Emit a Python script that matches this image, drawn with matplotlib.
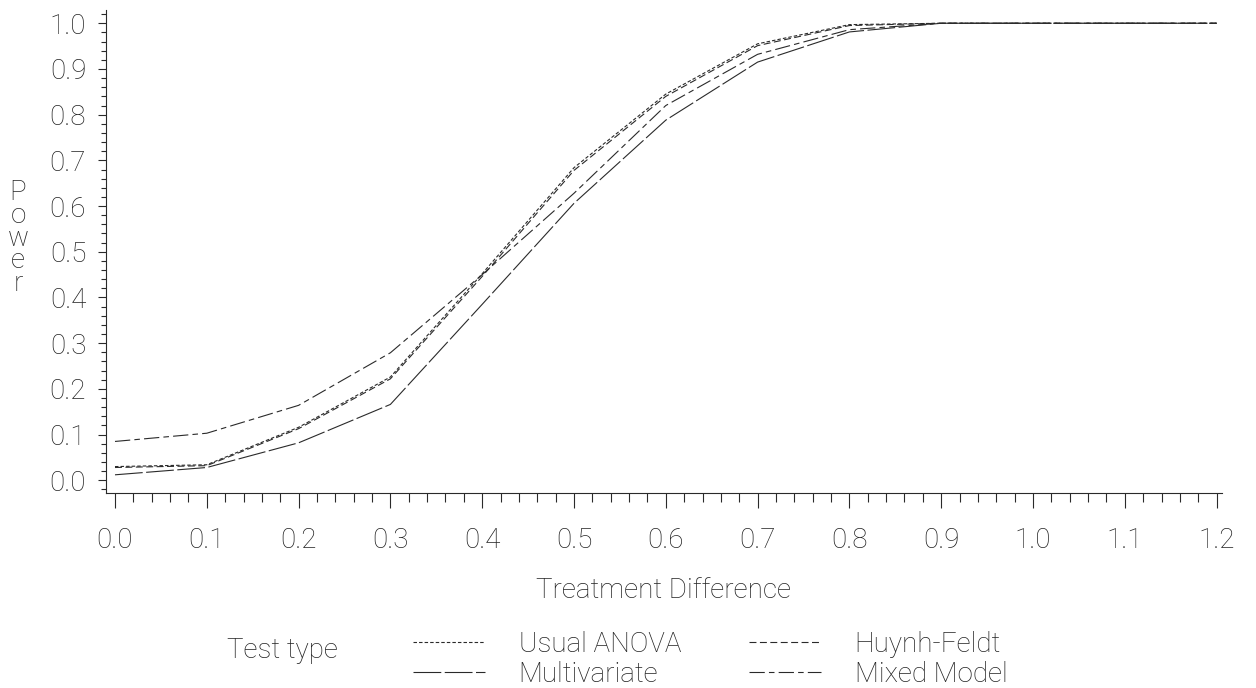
import matplotlib
matplotlib.use("Agg")
import matplotlib.pyplot as plt
from matplotlib.ticker import FixedLocator, MultipleLocator

# ---- data ----
treatment_difference = [0.0, 0.1, 0.2, 0.3, 0.4, 0.5, 0.6, 0.7, 0.8, 0.9, 1.0, 1.1, 1.2]
usual_anova  = [0.030, 0.034, 0.116, 0.226, 0.452, 0.684, 0.845, 0.955, 0.997, 1.0, 1.0, 1.0, 1.0]
huynh_feldt  = [0.028, 0.032, 0.113, 0.222, 0.446, 0.678, 0.840, 0.951, 0.995, 1.0, 1.0, 1.0, 1.0]
multivariate = [0.012, 0.028, 0.082, 0.166, 0.385, 0.606, 0.788, 0.915, 0.981, 1.0, 1.0, 1.0, 1.0]
mixed_model  = [0.085, 0.103, 0.164, 0.279, 0.450, 0.628, 0.820, 0.932, 0.986, 1.0, 1.0, 1.0, 1.0]
series_names = ["Usual ANOVA", "Huynh-Feldt", "Multivariate", "Mixed Model"]
xtick_values = [0.0, 0.1, 0.2, 0.3, 0.4, 0.5, 0.6, 0.7, 0.8, 0.9, 1.0, 1.1, 1.2]
xtick_labels = ["0.0", "0.1", "0.2", "0.3", "0.4", "0.5", "0.6", "0.7", "0.8", "0.9", "1.0", "1.1", "1.2"]
ytick_values = [0.0, 0.1, 0.2, 0.3, 0.4, 0.5, 0.6, 0.7, 0.8, 0.9, 1.0]
ytick_labels = ["0.0", "0.1", "0.2", "0.3", "0.4", "0.5", "0.6", "0.7", "0.8", "0.9", "1.0"]

plt.rcParams["font.family"] = ["Roboto", "Liberation Sans", "DejaVu Sans"]
plt.rcParams["font.weight"] = "light"
plt.rcParams["axes.labelweight"] = "light"
plt.rcParams["lines.scale_dashes"] = False

INK = "#2a2a2a"
TXT = "#222222"
FS = 20

fig = plt.figure(figsize=(12.56, 6.88), dpi=100)
ax = fig.add_axes([106 / 1256, 195 / 688, 1116 / 1256, 483 / 688])

lw = 0.8
l_usual, = ax.plot(treatment_difference, usual_anova, color=INK, lw=lw,
                   linestyle=(0, (2.5, 1.5)), label=series_names[0])
l_huynh, = ax.plot(treatment_difference, huynh_feldt, color=INK, lw=lw,
                   linestyle=(0, (5, 2.5)), label=series_names[1])
l_multi, = ax.plot(treatment_difference, multivariate, color=INK, lw=lw,
                   linestyle=(0, (20, 2.5)), label=series_names[2])
l_mixed, = ax.plot(treatment_difference, mixed_model, color=INK, lw=lw,
                   linestyle=(0, (11, 3, 4, 3)), label=series_names[3])

ax.set_xlim(-0.0098, 1.2059)
ax.set_ylim(-0.0278, 1.029)

for s in ["top", "right"]:
    ax.spines[s].set_visible(False)
for s in ["left", "bottom"]:
    ax.spines[s].set_linewidth(0.8)
    ax.spines[s].set_color(INK)

ax.xaxis.set_major_locator(FixedLocator(xtick_values))
ax.set_xticklabels(xtick_labels)
ax.xaxis.set_minor_locator(MultipleLocator(0.02))
ax.yaxis.set_major_locator(FixedLocator(ytick_values))
ax.set_yticklabels(ytick_labels)
ax.yaxis.set_minor_locator(MultipleLocator(0.02))

ax.tick_params(axis="x", which="major", direction="out", length=10.8, width=0.8,
               pad=14, labelsize=FS, color=INK, labelcolor=TXT)
ax.tick_params(axis="x", which="minor", direction="out", length=6.5, width=0.8, color=INK)
ax.tick_params(axis="y", which="major", direction="out", length=5.8, width=0.8,
               pad=8.5, labelsize=FS, color=INK, labelcolor=TXT)
ax.tick_params(axis="y", which="minor", direction="out", length=3.6, width=0.8, color=INK)

ax.set_xlabel("Treatment Difference", fontsize=FS, color=TXT, va="center",
              fontweight="light")
ax.xaxis.set_label_coords(0.5, (493 - 590) / 483)
ax.set_ylabel("P\no\nw\ne\nr", fontsize=FS, color=TXT, rotation=0,
              va="center", ha="center", linespacing=0.8, fontweight="light")
ax.yaxis.set_label_coords((18 - 106) / 1116, (493 - 238) / 483)

fig.text(227 / 1256, 1 - 650 / 688, "Test type", fontsize=FS, color=TXT,
         ha="left", va="center", fontweight="light")

leg = ax.legend(handles=[l_usual, l_multi, l_huynh, l_mixed], ncol=2,
                loc="upper left", bbox_to_anchor=(413 / 1256, 1 - 631 / 688),
                bbox_transform=fig.transFigure, frameon=False, borderpad=0,
                borderaxespad=0, handlelength=2.6, handletextpad=1.2,
                columnspacing=2.45, labelspacing=0.1, fontsize=FS)
for t in leg.get_texts():
    t.set_color(TXT)

fig.savefig("out.png", dpi=100, facecolor="white")
